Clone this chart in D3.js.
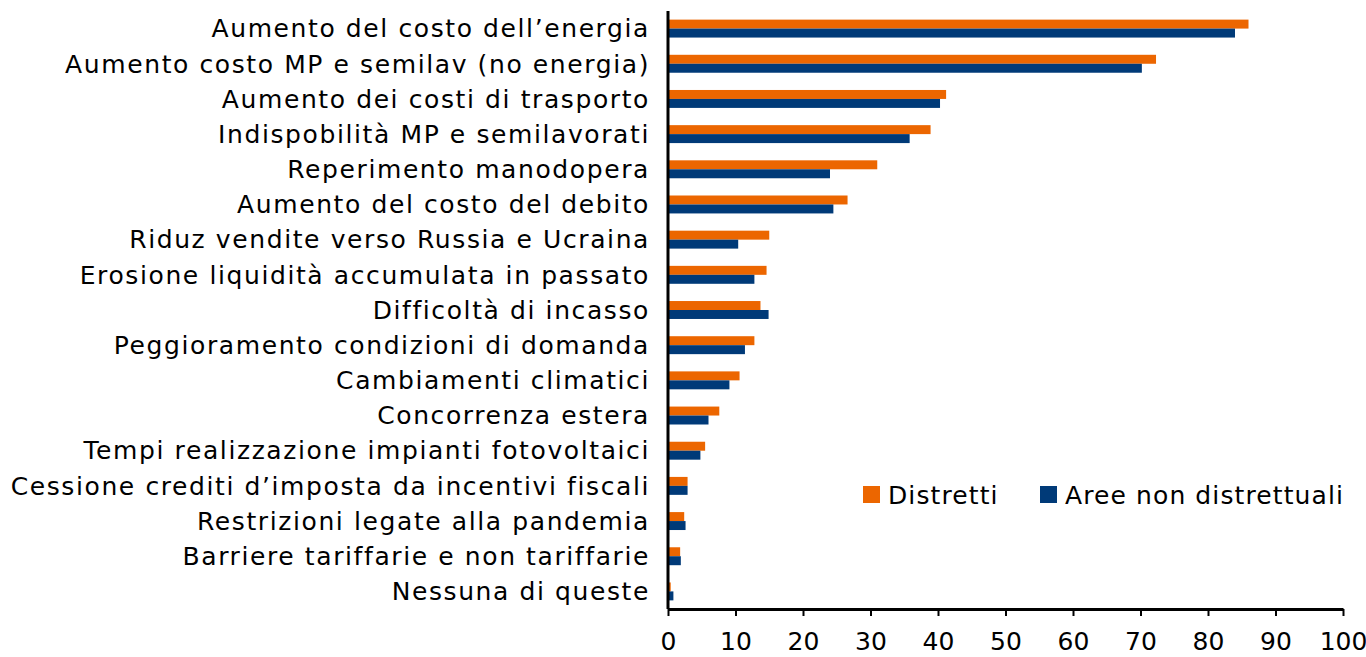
<!DOCTYPE html>
<html>
<head>
<meta charset="utf-8">
<script src="https://cdn.jsdelivr.net/npm/d3@7"></script>
<style>
  body { margin: 0; background: #fff; }
  text { font-family: "Century Gothic", "DejaVu Sans", sans-serif; fill: #000; }
</style>
</head>
<body>
<svg id="chart" width="1366" height="657"></svg>
<script>
const categories = [
  "Aumento del costo dell\u2019energia",
  "Aumento costo MP e semilav (no energia)",
  "Aumento dei costi di trasporto",
  "Indispobilità MP e semilavorati",
  "Reperimento manodopera",
  "Aumento del costo del debito",
  "Riduz vendite verso Russia e Ucraina",
  "Erosione liquidità accumulata in passato",
  "Difficoltà di incasso",
  "Peggioramento condizioni di domanda",
  "Cambiamenti climatici",
  "Concorrenza estera",
  "Tempi realizzazione impianti fotovoltaici",
  "Cessione crediti d\u2019imposta da incentivi fiscali",
  "Restrizioni legate alla pandemia",
  "Barriere tariffarie e non tariffarie",
  "Nessuna di queste"
];
const distretti = [86.0, 72.3, 41.2, 38.9, 31.0, 26.6, 15.0, 14.6, 13.7, 12.8, 10.6, 7.6, 5.5, 2.9, 2.4, 1.8, 0.4];
const nonDistrettuali = [84.0, 70.2, 40.3, 35.8, 24.0, 24.5, 10.4, 12.8, 14.9, 11.4, 9.1, 6.0, 4.8, 2.9, 2.6, 1.9, 0.8];
const xTicks = [0, 10, 20, 30, 40, 50, 60, 70, 80, 90, 100];
const seriesNames = ["Distretti", "Aree non distrettuali"];
const colors = ["#EC6600", "#003A78"];

const svg = d3.select("#chart");
const margin = { left: 668, right: 23, top: 11, bottom: 48 };
const width = 1366, height = 657;

const x = d3.scaleLinear().domain([0, 100]).range([margin.left, width - margin.right]);
const y = d3.scaleBand().domain(categories).range([margin.top, height - margin.bottom]).paddingInner(0.49).paddingOuter(0.245);
const sub = d3.scaleBand().domain([0, 1]).range([0, y.bandwidth()]);

const rows = categories.map((c, i) => ({ c, vals: [distretti[i], nonDistrettuali[i]] }));

const g = svg.append("g").selectAll("g").data(rows).enter().append("g")
  .attr("transform", d => `translate(0,${y(d.c)})`);
g.selectAll("rect").data(d => d.vals).enter().append("rect")
  .attr("x", x(0))
  .attr("y", (v, i) => sub(i))
  .attr("width", v => x(v) - x(0))
  .attr("height", sub.bandwidth())
  .attr("fill", (v, i) => colors[i]);

// category labels
svg.append("g").selectAll("text").data(categories).enter().append("text")
  .attr("x", x(0) - 18)
  .attr("y", d => y(d) + y.bandwidth() / 2)
  .attr("dy", "0.35em")
  .attr("text-anchor", "end")
  .style("font-size", "25px")
  .style("letter-spacing", "1.6px")
  .text(d => d);

// x axis
const xAxis = svg.append("g")
  .attr("transform", `translate(0,${height - margin.bottom})`)
  .call(d3.axisBottom(x).tickValues(xTicks).tickSize(7).tickPadding(16).tickSizeOuter(0));
xAxis.select(".domain").attr("stroke", "#000").attr("stroke-width", 3);
xAxis.selectAll(".tick line").attr("stroke", "#000").attr("stroke-width", 2);
xAxis.selectAll(".tick text").style("font-size", "25px").attr("font-family", null);

// y axis line
svg.append("line")
  .attr("x1", x(0)).attr("x2", x(0))
  .attr("y1", margin.top).attr("y2", height - margin.bottom)
  .attr("stroke", "#000").attr("stroke-width", 3);

// legend
const legend = svg.append("g").attr("transform", "translate(863,486)");
const legendX = [0, 177];
seriesNames.forEach((name, i) => {
  legend.append("rect").attr("x", legendX[i]).attr("y", 0).attr("width", 17).attr("height", 17).attr("fill", colors[i]);
  legend.append("text").attr("x", legendX[i] + 25).attr("y", 9).attr("dy", "0.35em")
    .style("font-size", "25px").style("letter-spacing", "1.1px").text(name);
});
</script>
</body>
</html>
